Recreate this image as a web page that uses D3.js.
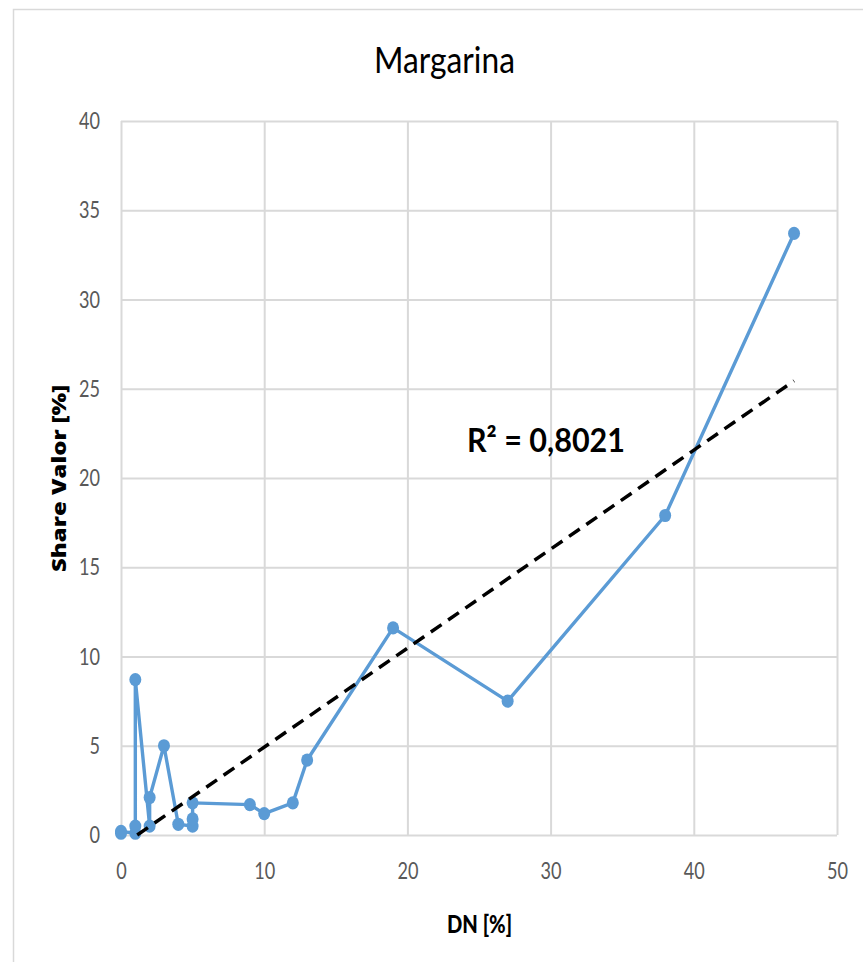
<!DOCTYPE html>
<html>
<head>
<meta charset="utf-8">
<script src="https://cdn.jsdelivr.net/npm/d3@7"></script>
<style>
  html, body { margin: 0; padding: 0; background: #fff; }
  svg { display: block; }
</style>
</head>
<body>
<svg id="chart" width="863" height="962"></svg>
<script>
// ---- data ----
const title = "Margarina";
const xLabel = "DN [%]";
const yLabel = "Share Valor  [%]";
const r2Label = "R² = 0,8021";
const dn =    [0,   0,   1,   1,   1,   2,   2,   3,   4,   5,   5,   5,   9,   10,  12,  13,  19,   27,  38,   47];
const share = [0.1, 0.2, 0.1, 0.5, 8.7, 0.5, 2.1, 5.0, 0.6, 0.5, 0.9, 1.8, 1.7, 1.2, 1.8, 4.2, 11.6, 7.5, 17.9, 33.7];
const xTicks = [0, 10, 20, 30, 40, 50];
const yTicks = [0, 5, 10, 15, 20, 25, 30, 35, 40];

const svg = d3.select("#chart");
const plot = { left: 121, right: 837, top: 121, bottom: 835 };
const FONT = "Lato, 'Open Sans', sans-serif";

// outer chart frame
svg.append("rect")
  .attr("x", 13.5).attr("y", 9.5)
  .attr("width", 1000).attr("height", 1000)
  .attr("fill", "none").attr("stroke", "#d9d9d9").attr("stroke-width", 1.5);

const x = d3.scaleLinear().domain([0, 50]).range([plot.left, plot.right]);
const y = d3.scaleLinear().domain([0, 40]).range([plot.bottom, plot.top]);

// grid via axes
const gx = svg.append("g").attr("transform", `translate(0,${plot.bottom})`)
  .call(d3.axisBottom(x).tickValues(xTicks).tickSize(-(plot.bottom - plot.top)).tickFormat(d3.format("d")));
const gy = svg.append("g").attr("transform", `translate(${plot.left},0)`)
  .call(d3.axisLeft(y).tickValues(yTicks).tickSize(-(plot.right - plot.left)).tickFormat(d3.format("d")));
[gx, gy].forEach(g => {
  g.select(".domain").remove();
  g.selectAll(".tick line").attr("stroke", "#d9d9d9").attr("stroke-width", 2);
  g.selectAll(".tick text")
    .attr("fill", "#595959")
    .style("font-family", FONT)
    .style("font-size", "23px")
    .attr("lengthAdjust", "spacingAndGlyphs")
    .attr("textLength", function() { return this.textContent.length * 10.5; });
});
gx.selectAll(".tick text").attr("y", 44).attr("dy", null);
gy.selectAll(".tick text").attr("x", -21).attr("dy", "0.33em");

// data line
const line = d3.line().x((d, i) => x(dn[i])).y((d, i) => y(share[i]));
svg.append("path")
  .datum(share)
  .attr("d", line)
  .attr("fill", "none")
  .attr("stroke", "#5b9bd5")
  .attr("stroke-width", 3.4)
  .attr("stroke-linejoin", "round");

// markers
svg.append("g").selectAll("ellipse")
  .data(share)
  .join("ellipse")
  .attr("cx", (d, i) => x(dn[i]))
  .attr("cy", d => y(d))
  .attr("rx", 6).attr("ry", 6.6)
  .attr("fill", "#5b9bd5");

// linear trendline (least squares), clipped at y >= 0
const n = dn.length;
const mx = d3.mean(dn), my = d3.mean(share);
let sxy = 0, sxx = 0;
for (let i = 0; i < n; i++) { sxy += (dn[i] - mx) * (share[i] - my); sxx += (dn[i] - mx) ** 2; }
const slope = sxy / sxx, intercept = my - slope * mx;
const xMin = Math.max(d3.min(dn), -intercept / slope), xMax = d3.max(dn);
svg.append("line")
  .attr("x1", x(xMin)).attr("y1", y(intercept + slope * xMin))
  .attr("x2", x(xMax)).attr("y2", y(intercept + slope * xMax))
  .attr("stroke", "#000").attr("stroke-width", 3.5)
  .attr("stroke-dasharray", "13,8");

// R² label
svg.append("text")
  .attr("x", 467).attr("y", 452)
  .style("font-family", FONT)
  .style("font-weight", "bold")
  .style("font-size", "33px")
  .attr("textLength", 158).attr("lengthAdjust", "spacingAndGlyphs")
  .attr("fill", "#000")
  .text(r2Label);

// title
svg.append("text")
  .attr("x", 374).attr("y", 73)
  .style("font-family", FONT)
  .style("font-size", "36px")
  .attr("textLength", 141).attr("lengthAdjust", "spacingAndGlyphs")
  .attr("fill", "#000")
  .text(title);

// axis titles
svg.append("text")
  .attr("x", 447).attr("y", 933)
  .style("font-family", FONT)
  .style("font-weight", "900")
  .style("font-size", "25px")
  .attr("textLength", 65).attr("lengthAdjust", "spacingAndGlyphs")
  .attr("fill", "#000")
  .text(xLabel);

svg.append("text")
  .attr("transform", "translate(66,572) rotate(-90)")
  .style("font-family", "'Open Sans', sans-serif")
  .style("font-weight", "800")
  .style("font-size", "19px")
  .attr("textLength", 187).attr("lengthAdjust", "spacingAndGlyphs")
  .attr("fill", "#000")
  .text(yLabel);
</script>
</body>
</html>
